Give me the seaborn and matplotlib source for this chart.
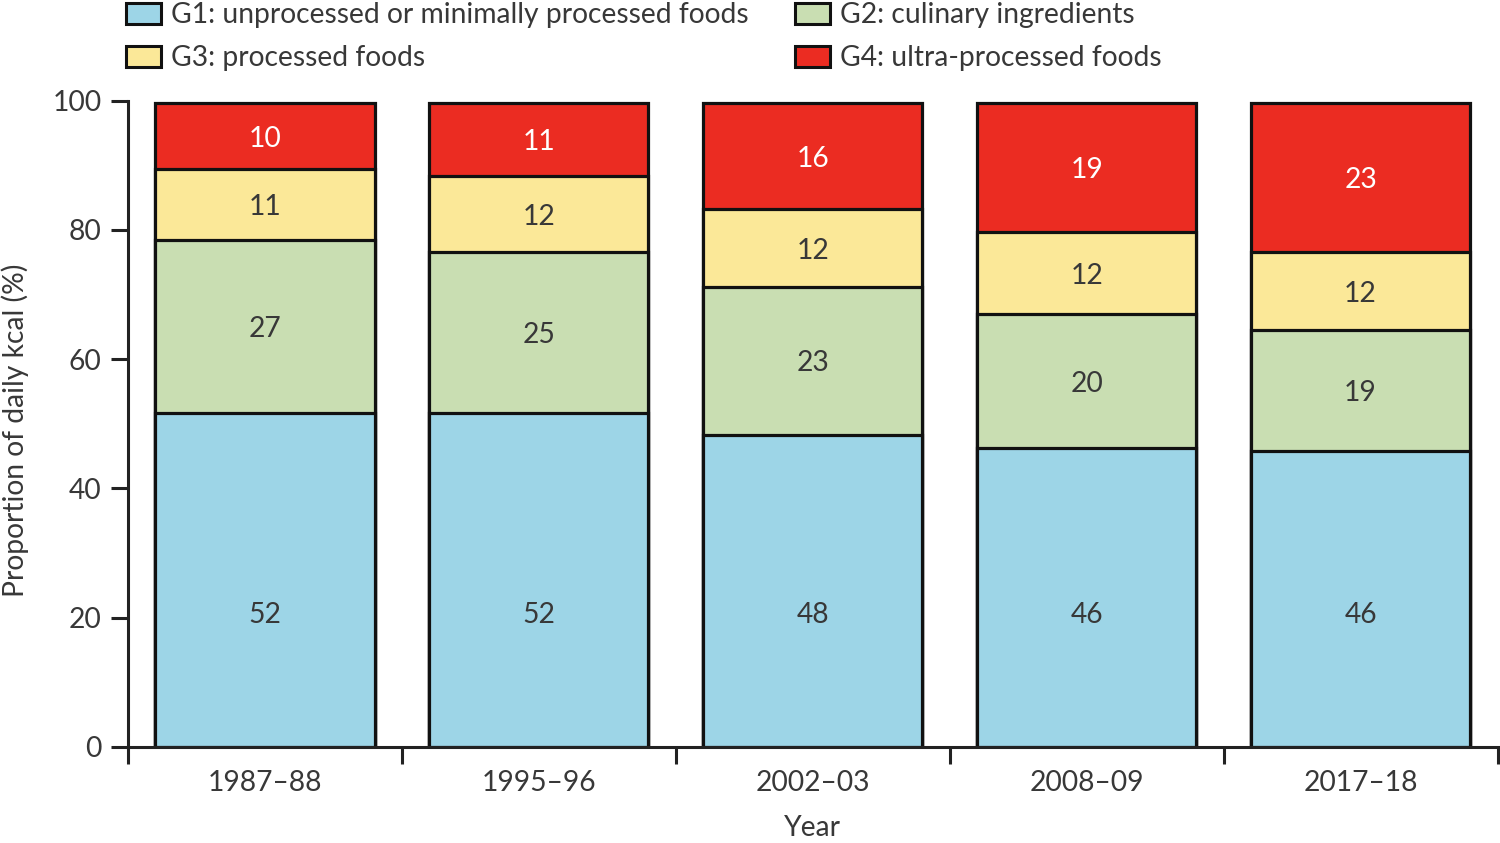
import matplotlib
matplotlib.use("Agg")
import matplotlib.pyplot as plt
import seaborn as sns
import pandas as pd
import numpy as np
from matplotlib.patches import Patch

# ---- data ----
years = ["1987–88", "1995–96", "2002–03", "2008–09", "2017–18"]
groups = ["G1: unprocessed or minimally processed foods",
          "G2: culinary ingredients",
          "G3: processed foods",
          "G4: ultra-processed foods"]
g1 = [51.7, 51.6, 48.3, 46.2, 45.8]
g2 = [26.8, 25.0, 22.9, 20.8, 18.7]
g3 = [10.9, 11.7, 12.0, 12.6, 12.1]
g4 = [10.2, 11.3, 16.4, 20.0, 23.0]
lab_g1 = [52, 52, 48, 46, 46]
lab_g2 = [27, 25, 23, 20, 19]
lab_g3 = [11, 12, 12, 12, 12]
lab_g4 = [10, 11, 16, 19, 23]
colors = ["#9dd5e7", "#c9deb2", "#fbe898", "#eb2c22"]
yticks = [0, 20, 40, 60, 80, 100]

sns.set_style("white")
plt.rcParams['font.family'] = ['Lato', 'DejaVu Sans']
TXT = "#383838"

fig = plt.figure(figsize=(15, 8.43), dpi=100)

# fit font size so the long legend label spans about 579 px, as in the reference
_t = fig.text(0, 0, groups[0], fontsize=20)
fig.canvas.draw()
_w = _t.get_window_extent().width
_t.remove()
FS = 20 * 579.0 / _w
FSPX = FS * 100 / 72

df = pd.DataFrame({"year": years, "g1": g1, "g2": g2, "g3": g3, "g4": g4})
df["c1"] = df["g1"]
df["c2"] = df["c1"] + df["g2"]
df["c3"] = df["c2"] + df["g3"]
df["c4"] = df["c3"] + df["g4"]

ax = fig.add_axes([128 / 1500, 1 - 746.7 / 843, (1497.5 - 128) / 1500, (746.7 - 100.7) / 843])

for col, c in zip(["c4", "c3", "c2", "c1"], colors[::-1]):
    sns.barplot(data=df, x="year", y=col, order=years, color=c, ax=ax,
                width=0.8, edgecolor="#111111", linewidth=2.3, saturation=1)

# G1 labels sit at a common height in the reference; others are centred in their segment
G1_LABEL_Y = 20.4
segs = [(df["g1"], df["c1"] - df["g1"], lab_g1, TXT, True),
        (df["g2"], df["c2"] - df["g2"], lab_g2, TXT, False),
        (df["g3"], df["c3"] - df["g3"], lab_g3, TXT, False),
        (df["g4"], df["c4"] - df["g4"], lab_g4, "white", False)]
for h, b, labs, tc, fixed in segs:
    for i in range(len(years)):
        yy = G1_LABEL_Y if fixed else b.iloc[i] + h.iloc[i] / 2 - 0.4
        ax.text(i, yy, str(labs[i]), ha="center", va="center",
                fontsize=FS, color=tc)

ax.set_xlim(-0.5, 4.5)
ax.set_ylim(0, 100)
ax.set_yticks(yticks)
ax.set_yticklabels([str(t) for t in yticks], fontsize=FS, color=TXT)
ax.set_xticks(np.arange(-0.5, 5.0, 1.0))
ax.set_xticklabels([])
ax.set_xticks(range(len(years)), minor=True)
ax.set_xticklabels(years, minor=True, fontsize=FS, color=TXT)
ax.tick_params(axis="x", which="major", length=12, width=2.2, direction="out", color="#222222")
ax.tick_params(axis="x", which="minor", length=0, pad=16.5)
ax.tick_params(axis="y", length=12, width=2.2, direction="out", color="#222222", pad=7)
ax.tick_params(axis="y", left=True)
ax.tick_params(axis="x", bottom=True)

for s in ["top", "right"]:
    ax.spines[s].set_visible(False)
for s in ["left", "bottom"]:
    ax.spines[s].set_linewidth(2.2)
    ax.spines[s].set_color("#222222")

ax.set_ylabel("Proportion of daily kcal (%)", fontsize=FS, color=TXT)
ax.yaxis.set_label_coords(-0.072, 0.49)
ax.set_xlabel("Year", fontsize=FS, color=TXT)
ax.xaxis.set_label_coords(0.5, -0.106)

handles = [Patch(facecolor=colors[k], edgecolor="#111111", linewidth=2.2) for k in [0, 2, 1, 3]]
labels = [groups[k] for k in [0, 2, 1, 3]]
fig.legend(handles, labels, loc="upper left", bbox_to_anchor=(126 / 1500, 1 - 2 / 843),
           ncol=2, frameon=False, fontsize=FS, labelcolor=TXT,
           handlelength=35 / FSPX, handleheight=22 / FSPX,
           handletextpad=0.35, columnspacing=1.65, labelspacing=0.6,
           borderpad=0, borderaxespad=0)

fig.savefig("out.png", dpi=100)
